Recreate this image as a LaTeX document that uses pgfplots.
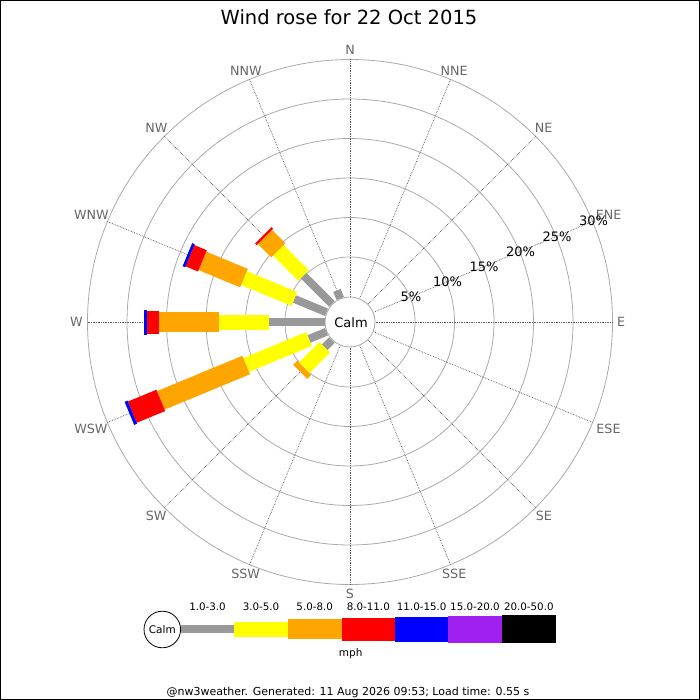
\documentclass[border=0pt]{standalone}
\usepackage{fontspec}
\setmainfont{DejaVu Sans}
\usepackage{pgfplots}
\usepackage{pgfplotstable}
\pgfplotsset{compat=1.18}

\definecolor{cgray}{RGB}{153,153,153}
\definecolor{cyel}{RGB}{255,255,0}
\definecolor{corange}{RGB}{255,165,0}
\definecolor{cred}{RGB}{255,0,0}
\definecolor{cblue}{RGB}{0,0,255}
\definecolor{cpurple}{RGB}{160,32,240}
\definecolor{ring}{RGB}{170,170,170}
\definecolor{spoke}{RGB}{90,90,90}
\definecolor{lab}{RGB}{102,102,102}

% a = compass direction (deg), lo/hi = cumulative frequency (%)
\pgfplotstableread{
a lo hi
270 0 7.0
247.5 0 2.4
292.5 0 4.4
315 0 5.1
337.5 0 1.1
225 0 1.3
}\tgray
\pgfplotstableread{
a lo hi
270 7.0 13.4
247.5 2.4 11.0
292.5 4.4 11.3
315 5.1 9.6
225 1.3 5.0
}\tyel
\pgfplotstableread{
a lo hi
270 13.4 20.9
247.5 11.0 22.7
292.5 11.3 17.0
315 9.6 12.0
225 5.0 5.7
}\torange
\pgfplotstableread{
a lo hi
270 20.9 22.5
247.5 22.7 26.6
292.5 17.0 18.7
315 12.0 12.3
}\tred
\pgfplotstableread{
a lo hi
270 22.5 22.8
247.5 26.6 27.0
292.5 18.7 19.05
}\tblue

% centre (350,322) px, calm radius 25.5 px, 7.9 px per percent
\pgfplotsset{
  seg/.style={no markers, line width=#1,
    quiver={u={7.9*(\thisrow{hi}-\thisrow{lo})*sin(\thisrow{a})},
            v={-7.9*(\thisrow{hi}-\thisrow{lo})*cos(\thisrow{a})}}},
  table/rose/.style={
    x expr={350+(25.5+7.9*\thisrow{lo})*sin(\thisrow{a})},
    y expr={322-(25.5+7.9*\thisrow{lo})*cos(\thisrow{a})}},
}

\begin{document}
\begin{tikzpicture}
\begin{scope}[x=1pt,y=-1pt]
\fill[white] (0,0) rectangle (700,700);
\draw[black,line width=1pt] (0.5,0.5) rectangle (699.5,699.5);
\node[font=\fontsize{19.5}{22}\selectfont] at (349,17) {Wind rose for 22 Oct 2015};
% rings
\foreach \p in {5,10,...,30}
  \draw[ring,line width=0.8pt] (350,322) circle[radius={(25.5+7.9*\p)*1pt}];
% spokes
\foreach \t in {0,22.5,...,337.5}
  \draw[spoke,densely dotted,line width=0.7pt]
    ({350+25.5*sin(\t)},{322-25.5*cos(\t)}) -- ({350+262.5*sin(\t)},{322-262.5*cos(\t)});
% direction labels
\foreach \t/\d [evaluate=\t as \an using 270-\t] in
    {0/N,22.5/NNE,45/NE,67.5/ENE,90/E,112.5/ESE,135/SE,157.5/SSE,
     180/S,202.5/SSW,225/SW,247.5/WSW,270/W,292.5/WNW,315/NW,337.5/NNW}
  \node[text=lab,font=\fontsize{12.7}{15}\selectfont,inner sep=0pt,anchor=\an]
    at ({350+267*sin(\t)},{322-267*cos(\t)}) {\d};
% percent labels
\foreach \p in {5,10,...,30}
  \node[font=\fontsize{13}{15}\selectfont,inner sep=0pt]
    at ({350+(26.5+7.9*\p)*0.9239},{322-(26.5+7.9*\p)*0.3827}) {\p\%};
\fill[white] (350,322) circle[radius=25pt];
\draw[ring,line width=0.8pt] (350,322) circle[radius=25pt];
\end{scope}

\begin{axis}[
  at={(0,0)}, anchor=north west,
  x=1pt, y=1pt, y dir=reverse,
  xmin=0, xmax=700, ymin=0, ymax=700,
  hide axis, clip=false,
]
\addplot[seg=8pt, draw=cgray] table[rose] {\tgray};
\addplot[seg=15pt, draw=cyel] table[rose] {\tyel};
\addplot[seg=20pt, draw=corange] table[rose] {\torange};
\addplot[seg=23pt, draw=cred] table[rose] {\tred};
\addplot[seg=25pt, draw=cblue] table[rose] {\tblue};
\end{axis}

\begin{scope}[x=1pt,y=-1pt]
\node[font=\fontsize{13}{15}\selectfont] at (351,323) {Calm};
% legend
\draw[black,line width=0.8pt,fill=white] (162.3,629.5) circle[radius=18.3pt];
\node[font=\fontsize{10.5}{13}\selectfont] at (162.3,630) {Calm};
\fill[cgray] (180.7,625.2) rectangle (234.3,633.2);
\fill[cyel] (234.3,621.7) rectangle (287.7,636.7);
\fill[corange] (287.7,619.2) rectangle (341.7,639.2);
\fill[cred] (341.7,617.7) rectangle (395,640.7);
\fill[cblue] (395,616.7) rectangle (448.3,641.7);
\fill[cpurple] (448.3,615.7) rectangle (501.7,642.7);
\fill[black] (501.7,615.2) rectangle (556,643.2);
\foreach \x/\l in {207.5/1.0-3.0,261/3.0-5.0,314.7/5.0-8.0,368.3/8.0-11.0,
                   421.7/11.0-15.0,475/15.0-20.0,528.8/20.0-50.0}
  \node[font=\fontsize{10.3}{13}\selectfont,inner sep=0pt] at (\x,606.5) {\l};
\node[font=\fontsize{10.5}{13}\selectfont,inner sep=0pt] at (350.7,653.5) {mph};
\node[font=\fontsize{11}{13}\selectfont,inner sep=0pt] at (348,692.5)
  {@nw3weather. Generated: 11 Aug 2026 09:53; Load time: 0.55 s};
\end{scope}
\end{tikzpicture}
\end{document}
